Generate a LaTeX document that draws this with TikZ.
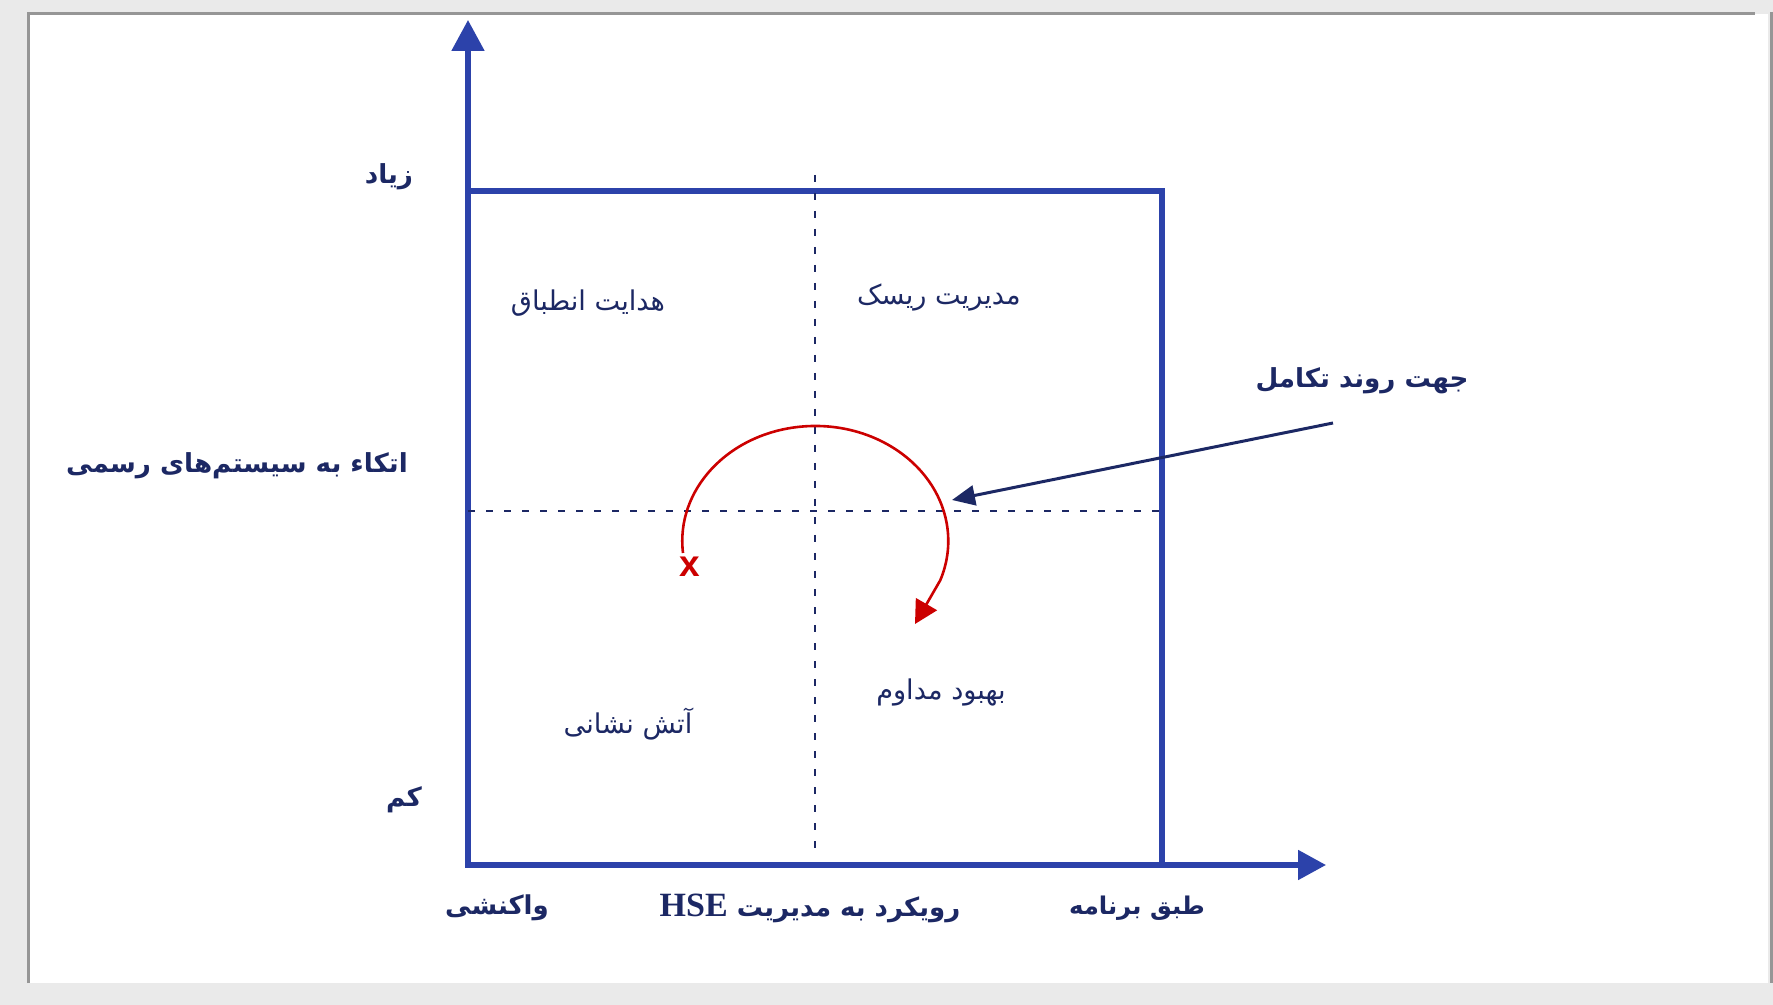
\documentclass[tikz,border=0pt]{standalone}
\usepackage{fontspec}
\usetikzlibrary{arrows.meta}
\TeXXeTstate=1
\newfontfamily\fa[Script=Arabic]{DejaVu Sans}
\newfontfamily\latinserif{Liberation Serif}
\newfontfamily\latinsans{Liberation Sans}
\definecolor{axisblue}{RGB}{44,66,170}
\definecolor{navy}{RGB}{28,40,100}
\definecolor{arcred}{RGB}{204,0,0}
\definecolor{pagegray}{RGB}{234,234,234}
\definecolor{bordergray}{RGB}{150,150,150}
\begin{document}
\begin{tikzpicture}[x=0.5pt,y=-0.5pt,
  axisline/.style={draw=axisblue,line width=2.6pt},
  dashline/.style={draw=navy,line width=1.35pt,dash pattern=on 3.5pt off 5.5pt},
  boldlabel/.style={text=navy,inner sep=0pt,font=\fa\bfseries\fontsize{13.1}{16}\selectfont},
  quadlabel/.style={text=navy,inner sep=0pt,font=\fa\fontsize{13.6}{16}\selectfont},
  bottomlabel/.style={text=navy,inner sep=0pt,font=\fa\bfseries\fontsize{13}{15}\selectfont},
]
\useasboundingbox (0,0) rectangle (1773,1005);
% page background
\fill[pagegray] (0,0) rectangle (1773,1005);
\fill[white] (28,14) rectangle (1768,983);
\draw[bordergray,line width=1.5pt] (28,983) -- (28,14) -- (1755,14);
\draw[bordergray,line width=1.5pt] (1771,12) -- (1771,983);

% axes and box
\coordinate (O) at (468,865);
\coordinate (ytip) at (468,20);
\coordinate (xtip) at (1326,865);
\draw[axisline] (468,191) rectangle (1162,865);
\draw[axisline,-{Triangle[length=15.5pt,width=16pt]}] (O) -- (ytip);
\draw[axisline,-{Triangle[length=14pt,width=14.5pt]}] (O) -- (xtip);

% dashed quadrant lines
\coordinate (vtop) at (815,175);
\coordinate (vbot) at (815,848);
\coordinate (hleft) at (468,511);
\coordinate (hright) at (1162,511);
\draw[dashline] (vtop) -- (vbot);
\draw[dashline] (hleft) -- (hright);

% red evolution arc
\coordinate (arcstart) at (683,553);
\coordinate (arctip) at (915,624);
\draw[arcred,line width=1.3pt,-{Triangle[length=11.5pt,width=12pt]}]
  (arcstart) arc[start angle=174,end angle=380,x radius=133,y radius=115] -- (arctip);
\node[text=arcred,inner sep=0pt,font=\latinsans\bfseries\fontsize{18.5}{18}\selectfont] (xmark) at (690,567) {x};

% labels
\node[boldlabel] (high) at (389,177) {\beginR زیاد\endR};
\node[boldlabel] (low) at (404,800) {\beginR کم\endR};
\node[boldlabel] (ylabel) at (237,466) {\beginR اتکاء به سیستم‌های رسمی\endR};
\node[quadlabel] (q1) at (588,303) {\beginR هدایت انطباق\endR};
\node[quadlabel] (q2) at (939,297) {\beginR مدیریت ریسک\endR};
\node[quadlabel] (q3) at (628,724) {\beginR آتش نشانی\endR};
\node[quadlabel] (q4) at (941,692) {\beginR بهبود مداوم\endR};
\node[boldlabel] (evo) at (1362,381) {\beginR جهت روند تکامل\endR};
\node[bottomlabel] (react) at (497,908) {\beginR واکنشی\endR};
\node[bottomlabel] (xlabel) at (810,908) {\beginR رویکرد به مدیریت \beginL{\latinserif\fontsize{17}{17}\selectfont HSE}\endL\endR};
\node[bottomlabel,font=\fa\bfseries\fontsize{12.2}{15}\selectfont] (plan) at (1137,908) {\beginR طبق برنامه\endR};

% evolution pointer arrow
\coordinate (evostart) at (1333,423);
\coordinate (evotip) at (952,500);
\draw[navy,line width=1.5pt,-{Triangle[length=11.5pt,width=10pt]}] (evostart) -- (evotip);
\end{tikzpicture}
\end{document}
